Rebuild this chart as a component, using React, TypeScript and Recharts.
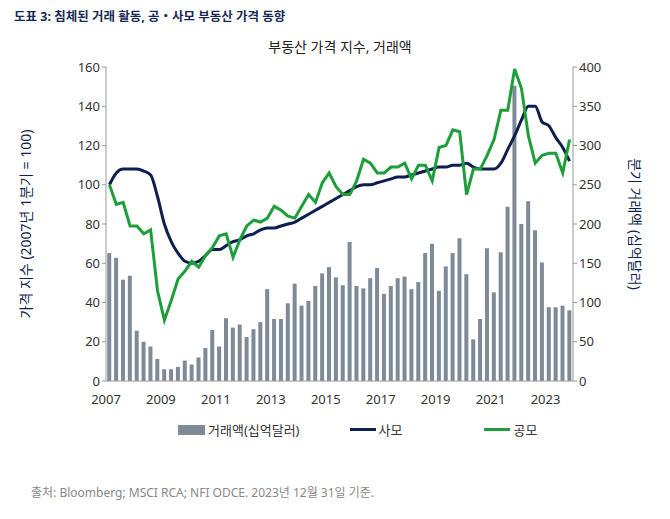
import { ComposedChart, Bar, Line, XAxis, YAxis } from 'recharts';

const startYear = 2007;
const quarters = 68;

// 분기 거래액 (십억달러), 2007Q1 .. 2023Q4
const volume = [
  163, 157, 129, 134, 64, 50, 44, 28, 15, 15, 18, 26, 21, 30, 42, 65,
  44, 80, 68, 72, 56, 66, 75, 117, 79, 79, 99, 124, 96, 102, 121, 137,
  145, 132, 122, 177, 121, 118, 131, 144, 111, 121, 131, 133, 117, 126, 163, 175,
  115, 146, 163, 182, 136, 53, 79, 169, 113, 164, 222, 376, 200, 229, 192, 151,
  94, 94, 96, 90,
];

// 사모 (private)
const privateIdx = [
  100, 106, 108, 108, 108, 107, 105, 94, 80, 71, 65, 61, 60, 61, 64, 67,
  67, 69, 71, 72, 74, 75, 77, 78, 78, 79, 80, 81, 83, 85, 87, 89,
  91, 93, 95, 97, 99, 100, 100, 101, 102, 103, 104, 104, 105, 106, 107, 108,
  109, 109, 110, 110, 111, 109, 108, 108, 108, 111, 118, 125, 133, 140, 140, 132,
  130, 124, 119, 112,
];

// 공모 (public)
const publicIdx = [
  100, 90, 91, 79, 79, 75, 77, 46, 31, 41, 52, 56, 61, 58, 64, 68,
  74, 75, 63, 72, 79, 82, 81, 83, 89, 87, 84, 83, 89, 95, 91, 101,
  106, 99, 95, 95, 102, 113, 111, 106, 106, 109, 109, 111, 103, 110, 110, 102,
  119, 120, 128, 127, 95, 108, 108, 115, 123, 138, 138, 159, 149, 125, 111, 115,
  116, 116, 106, 123,
];

const leftTicks = [0, 20, 40, 60, 80, 100, 120, 140, 160];
const rightTicks = [0, 50, 100, 150, 200, 250, 300, 350, 400];

const data = Array.from({ length: quarters }, (_, i) => ({
  q: i,
  volume: volume[i],
  privateIdx: privateIdx[i],
  publicIdx: publicIdx[i],
}));

const navy = '#0d1f4f';
const green = '#1e9e3a';
const barColor = '#7f8a99';
const font = '"Noto Sans", "Noto Sans CJK KR", sans-serif';

const YearTick = (props: any) => {
  const { x, y, payload } = props;
  const i = payload.value as number;
  if (i % 8 !== 0) return null;
  const bw = 467 / quarters;
  return (
    <text x={x - bw / 2} y={y + 15} textAnchor="middle" fontSize={13} fill="#333" fontFamily={font}>
      {startYear + i / 4}
    </text>
  );
};

export default function App() {
  return (
    <div style={{ position: 'absolute', left: 0, top: 0, width: 670, height: 519, background: '#fff', fontFamily: font }}>
      <div style={{ position: 'absolute', left: 14, top: 6, fontSize: 12.5, fontWeight: 700, color: '#1a2a55' }}>
        도표 3: 침체된 거래 활동, 공・사모 부동산 가격 동향
      </div>
      <div style={{ position: 'absolute', left: 0, width: 680, top: 36, textAlign: 'center', fontSize: 14, color: '#222' }}>
        부동산 가격 지수, 거래액
      </div>
      <div style={{ position: 'absolute', left: 0, top: 0 }}>
        <ComposedChart width={670} height={420} data={data} margin={{ top: 67, left: 56, right: 47, bottom: 14 }} barCategoryGap="18%">
          <XAxis dataKey="q" interval={0} tick={<YearTick />} tickLine={false} axisLine={{ stroke: '#999' }} height={25} />
          <YAxis yAxisId="left" width={50} domain={[0, 160]} ticks={leftTicks} tick={{ fontSize: 13, fill: '#333' }} axisLine={{ stroke: '#999' }} tickLine={{ stroke: '#999' }} tickSize={4} />
          <YAxis yAxisId="right" orientation="right" width={50} domain={[0, 400]} ticks={rightTicks} tick={{ fontSize: 13, fill: '#333' }} axisLine={{ stroke: '#999' }} tickLine={{ stroke: '#999' }} tickSize={4} />
          <Bar yAxisId="right" dataKey="volume" fill={barColor} isAnimationActive={false} />
          <Line yAxisId="left" dataKey="privateIdx" stroke={navy} strokeWidth={3} dot={false} type="monotone" isAnimationActive={false} />
          <Line yAxisId="left" dataKey="publicIdx" stroke={green} strokeWidth={3} dot={false} type="linear" isAnimationActive={false} />
        </ComposedChart>
      </div>
      <div style={{ position: 'absolute', left: 25, top: 224, transform: 'translate(-50%, -50%) rotate(-90deg)', whiteSpace: 'nowrap', fontSize: 14, color: navy }}>
        가격 지수 (2007년 1분기 = 100)
      </div>
      <div style={{ position: 'absolute', left: 636, top: 224, transform: 'translate(-50%, -50%) rotate(90deg)', whiteSpace: 'nowrap', fontSize: 14, color: navy }}>
        분기 거래액 (십억달러)
      </div>
      <div style={{ position: 'absolute', top: 420, left: 178, display: 'flex', alignItems: 'center', fontSize: 13, color: '#333' }}>
        <span style={{ width: 27, height: 10, background: barColor, marginRight: 3 }} />
        <span style={{ marginRight: 50 }}>거래액(십억달러)</span>
        <span style={{ width: 26, height: 3, background: navy, marginRight: 3 }} />
        <span style={{ marginRight: 82 }}>사모</span>
        <span style={{ width: 26, height: 3, background: green, marginRight: 3 }} />
        <span>공모</span>
      </div>
      <div style={{ position: 'absolute', left: 31, top: 483, fontSize: 12, color: '#888' }}>
        출처: Bloomberg; MSCI RCA; NFI ODCE. 2023년 12월 31일 기준.
      </div>
    </div>
  );
}
